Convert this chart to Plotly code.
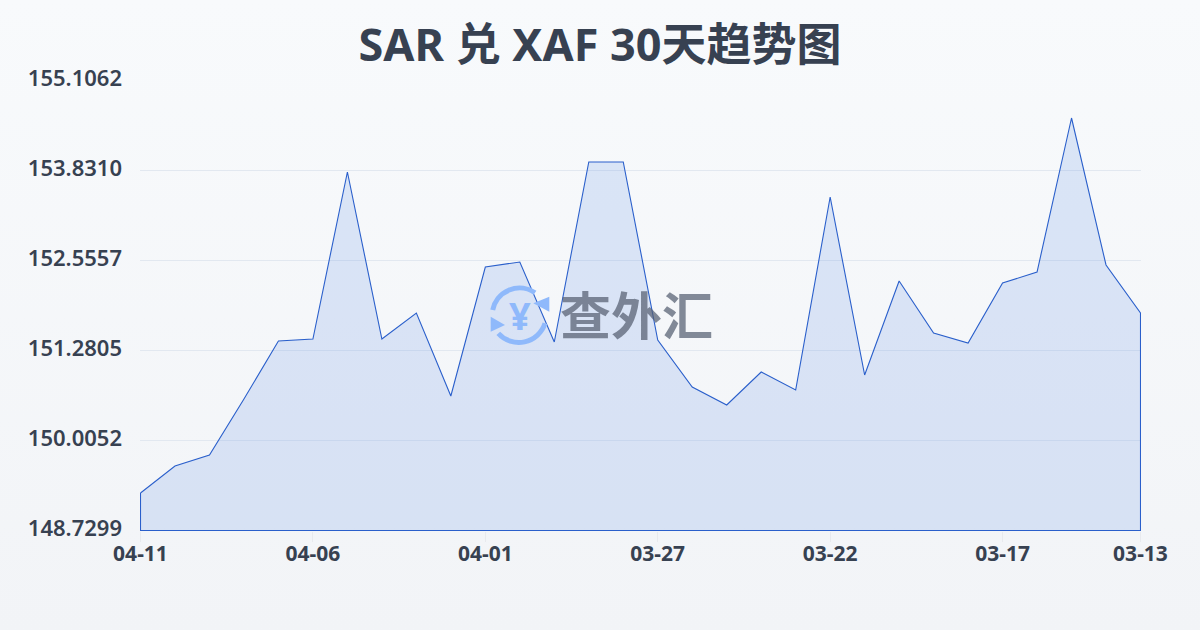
import base64
import plotly.graph_objects as go

dates = ["04-11","04-10","04-09","04-08","04-07","04-06","04-05","04-04","04-03","04-02",
         "04-01","03-31","03-30","03-29","03-28","03-27","03-26","03-25","03-24","03-23",
         "03-22","03-21","03-20","03-19","03-18","03-17","03-16","03-15","03-14","03-13"]
rates = [149.2613,149.6439,149.7997,150.5932,151.4151,151.4434,153.8097,151.4434,151.8118,150.6357,
         152.4636,152.5345,151.4009,153.9514,153.9514,151.4292,150.7632,150.5082,150.9758,150.7207,
         153.4554,150.9333,152.2652,151.5284,151.3867,152.2369,152.3927,154.5749,152.4919,151.8118]
y_ticks = [148.7299,150.0052,151.2805,152.5557,153.8310,155.1062]
x_tick_dates = ["04-11","04-06","04-01","03-27","03-22","03-17","03-13"]
title_text = "SAR 兑 XAF 30天趋势图"
watermark_text = "查外汇"

FONT = "'Noto Sans','Noto Sans CJK SC',sans-serif"
INK = "#374151"

idx = list(range(len(dates)))
x_pos = [dates.index(d) for d in x_tick_dates]
y_min, y_max = y_ticks[0], y_ticks[-1]

# half-pixel padding on the axis ranges so the frame lines land crisply on pixel rows
x_pad = 0.5 * (len(dates) - 1) / 1000
y_pad = 0.5 * (y_max - y_min) / 450
px = lambda x: (x - 140) / 1001
py = lambda y: (531 - y) / 451

bg_svg = ('<svg xmlns="http://www.w3.org/2000/svg" width="1200" height="630" preserveAspectRatio="none">'
          '<defs><linearGradient id="g" x1="0" y1="0" x2="0" y2="1"><stop offset="0" stop-color="#f8fafc"/>'
          '<stop offset="1" stop-color="#f2f4f7"/></linearGradient></defs>'
          '<rect width="1200" height="630" fill="url(#g)"/></svg>')
logo_svg = ('<svg xmlns="http://www.w3.org/2000/svg" width="60" height="60" viewBox="0 0 60 60">'
            '<g fill="none" stroke="#8fb9fb" stroke-width="5">'
            '<path d="M2.7 25 A 27.5 27.5 0 0 1 45 7.7"/><path d="M8.3 48.3 A 27.5 27.5 0 0 0 55 38.3"/></g>'
            '<path d="M59.3 11.7 L59.3 26.7 L43.3 18.3 Z" fill="#8fb9fb"/>'
            '<path d="M0.7 31.7 L0.7 46.7 L15 40 Z" fill="#8fb9fb"/>'
            '</svg>')
def uri(s):
    return "data:image/svg+xml;base64," + base64.b64encode(s.encode()).decode()

fig = go.Figure()
fig.add_trace(go.Scatter(
    x=idx + [idx[-1], idx[0], idx[0]],
    y=rates + [y_min, y_min, rates[0]],
    mode="lines", fill="toself", cliponaxis=False,
    fillcolor="rgba(96,141,229,0.19)",
    line=dict(color="#2a5fcb", width=1.1),
    hoverinfo="skip", showlegend=False,
))
fig.update_layout(
    width=1200, height=630,
    margin=dict(l=140, r=59, t=80, b=99),
    paper_bgcolor="#f5f7fa", plot_bgcolor="rgba(0,0,0,0)",
    font=dict(family=FONT, color=INK),
    title=dict(text=title_text, x=0.5, xanchor="center", y=0.928, yanchor="middle",
               font=dict(size=45, family=FONT, weight=700, color=INK)),
    xaxis=dict(range=[-x_pad, len(dates) - 1 + x_pad], tickmode="array", tickvals=x_pos, ticktext=x_tick_dates,
               showgrid=False, zeroline=False, showline=False,
               ticks="outside", ticklen=10, tickwidth=1, tickcolor="#e8eaee", ticklabelstandoff=-6,
               tickfont=dict(size=21, weight=700, color=INK)),
    yaxis=dict(range=[y_min - y_pad, y_max + y_pad], tickmode="array", tickvals=y_ticks,
               ticktext=[f"{v:.4f}" for v in y_ticks],
               showgrid=True, gridcolor="#e2e8f0", gridwidth=1, zeroline=False, showline=False,
               ticks="", ticklabelstandoff=17, ticklabelshift=-2,
               tickfont=dict(size=22, weight=600, color=INK)),
    images=[
        dict(source=uri(bg_svg), xref="paper", yref="paper", x=px(0), y=py(0),
             sizex=1200/1001, sizey=630/451, sizing="stretch", xanchor="left", yanchor="top", layer="below"),
        dict(source=uri(logo_svg), xref="paper", yref="paper", x=px(490), y=py(285),
             sizex=60/1001, sizey=60/451, sizing="stretch", xanchor="left", yanchor="top", layer="above"),
    ],
    annotations=[
        dict(text=watermark_text, xref="paper", yref="paper", x=px(636), y=py(313),
             showarrow=False, xanchor="center", yanchor="middle",
             font=dict(size=51, family="'Noto Sans CJK SC'", weight=700, color="rgba(85,94,112,0.72)")),
        dict(text="¥", xref="paper", yref="paper", x=px(520), y=py(315),
             showarrow=False, xanchor="center", yanchor="middle",
             font=dict(size=38, family=FONT, weight=700, color="#8fb9fb")),
    ],
)
fig.write_html("out.html", config={"displayModeBar": False}, post_script="document.body.style.margin='0';")
